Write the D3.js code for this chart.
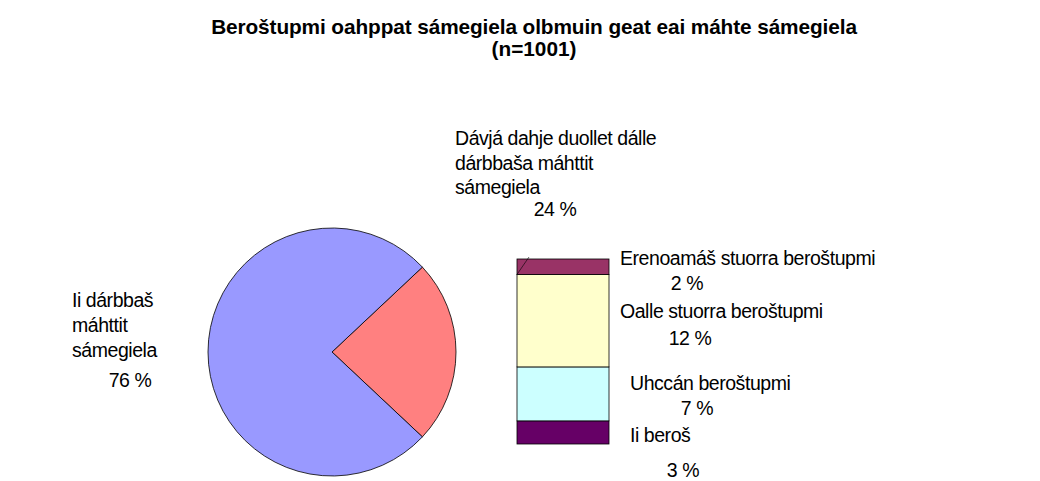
<!DOCTYPE html>
<html><head><meta charset="utf-8">
<script src="https://cdn.jsdelivr.net/npm/d3@7"></script>
<style>
html,body{margin:0;padding:0;background:#fff;}
svg{display:block;}
text{font-family:"Liberation Sans",Arial,sans-serif;}
</style></head>
<body>
<script>
const titleLines = ["Beroštupmi oahppat sámegiela olbmuin geat eai máhte sámegiela", "(n=1001)"];
const pieLabels = ["Dávjá dahje duollet dálle dárbbaša máhttit sámegiela", "Ii dárbbaš máhttit sámegiela"];
const pieValues = [24, 76];
const pieColors = ["#FF8080", "#9999FF"];
const barLabels = ["Ii beroš", "Uhccán beroštupmi", "Oalle stuorra beroštupmi", "Erenoamáš stuorra beroštupmi"];
const barValues = [3, 7, 12, 2];
const barColors = ["#660066", "#CCFFFF", "#FFFFCC", "#993366"];

const W = 1040, H = 481;
const svg = d3.select("body").append("svg").attr("width", W).attr("height", H);

// Title
svg.append("text").attr("x", 534).attr("y", 34).attr("text-anchor", "middle")
  .attr("font-weight", "bold").attr("font-size", 20.8).attr("letter-spacing", "-0.1px").text(titleLines[0]);
svg.append("text").attr("x", 534).attr("y", 56).attr("text-anchor", "middle")
  .attr("font-weight", "bold").attr("font-size", 20.8).text(titleLines[1]);

// Pie
const cx = 332, cy = 352, r = 124;
const pie = d3.pie().sort(null)
  .startAngle(Math.PI / 2 - Math.PI * pieValues[0] / 100)
  .endAngle(Math.PI / 2 - Math.PI * pieValues[0] / 100 + 2 * Math.PI);
const arc = d3.arc().innerRadius(0).outerRadius(r);
const g = svg.append("g").attr("transform", `translate(${cx},${cy})`);
g.selectAll("path").data(pie(pieValues)).join("path")
  .attr("d", arc).attr("fill", (d, i) => pieColors[i]).attr("stroke", "#000").attr("stroke-width", 0.8);

// Bar
const y = d3.scaleLinear().domain([0, d3.sum(barValues)]).range([444, 259]);
const bx = 517, bw = 92;
const stacked = [];
let acc = 0;
barValues.forEach((v, i) => { stacked.push({v, i, y0: acc, y1: acc + v}); acc += v; });
svg.selectAll("rect.seg").data(stacked).join("rect").attr("class", "seg")
  .attr("x", bx).attr("width", bw)
  .attr("y", d => y(d.y1)).attr("height", d => y(d.y0) - y(d.y1))
  .attr("fill", d => barColors[d.i]).attr("stroke", "#000").attr("stroke-width", 0.8);
// series line stub
svg.append("line").attr("x1", bx).attr("y1", y(acc - barValues[3])).attr("x2", bx + 12).attr("y2", y(acc) - 2)
  .attr("stroke", "#000").attr("stroke-width", 0.6);

const fs = 19.5;
function lbl(x, yy, t, anchor) {
  svg.append("text").attr("x", x).attr("y", yy).attr("font-size", fs)
    .attr("letter-spacing", "-0.45px").attr("text-anchor", anchor || "start").text(t);
}
// Pie labels
lbl(455, 145, "Dávjá dahje duollet dálle");
lbl(455, 170, "dárbbaša máhttit");
lbl(455, 194, "sámegiela");
lbl(555, 216, pieValues[0] + " %", "middle");
lbl(72, 307, "Ii dárbbaš");
lbl(72, 332, "máhttit");
lbl(72, 357, "sámegiela");
lbl(130, 387, pieValues[1] + " %", "middle");

// Bar labels
lbl(620, 265, barLabels[3]);
lbl(687, 290, barValues[3] + " %", "middle");
lbl(620, 318, barLabels[2]);
lbl(690, 345, barValues[2] + " %", "middle");
lbl(630, 390, barLabels[1]);
lbl(697, 415, barValues[1] + " %", "middle");
lbl(630, 442, barLabels[0]);
lbl(683, 477, barValues[0] + " %", "middle");
</script>
</body></html>
